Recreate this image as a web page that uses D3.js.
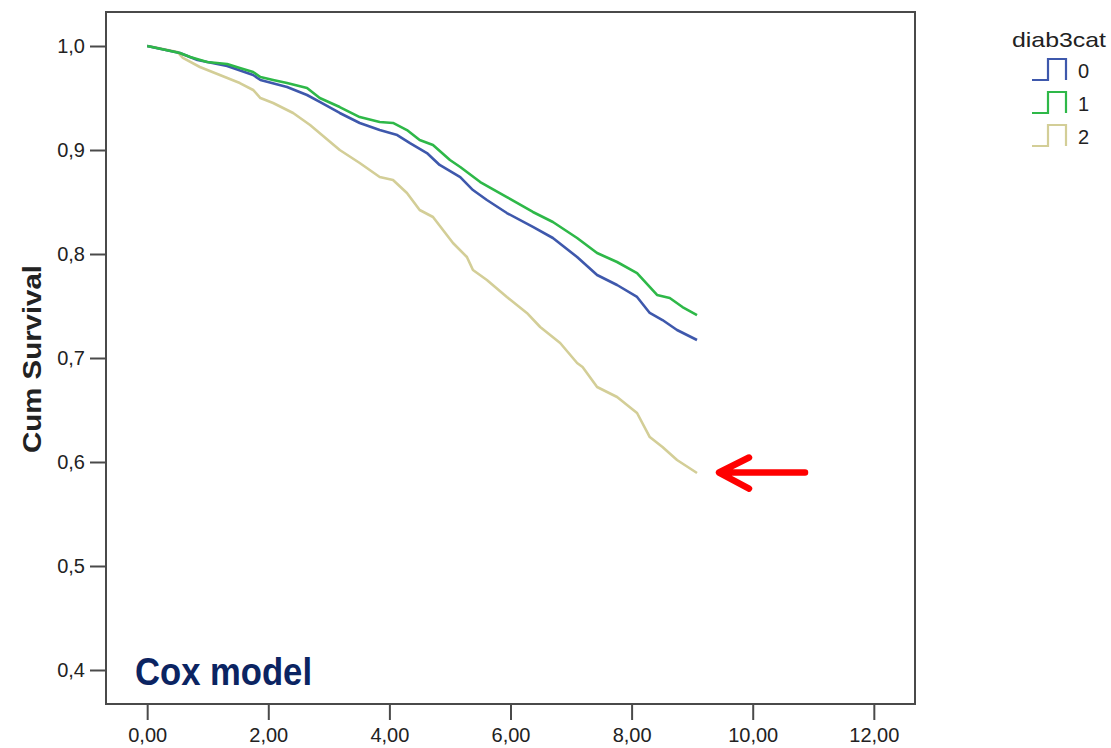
<!DOCTYPE html>
<html><head><meta charset="utf-8">
<script src="https://cdn.jsdelivr.net/npm/d3@7"></script>
<style>
body{margin:0;background:#fff;}
svg{display:block;}
text{font-family:"Liberation Sans",Arial,sans-serif;fill:#222;}
</style></head>
<body><svg id="c" width="1111" height="748"></svg>
<script>
// ---- data ----
const groups = ["0", "1", "2"];
const groupColors = ["#3e58ac", "#2eb848", "#d3ce97"];
const xTicks = [0, 2, 4, 6, 8, 10, 12];
const yTicks = [0.4, 0.5, 0.6, 0.7, 0.8, 0.9, 1.0];

const time0 = [0,0.54,0.83,1.32,1.75,1.87,2.31,2.64,2.85,3.18,3.51,3.84,4.13,4.34,4.62,4.83,5.17,5.38,5.61,5.94,6.37,6.70,7.10,7.43,7.76,8.09,8.30,8.51,8.75,9.08];
const surv0 = [1.000,0.9933,0.9865,0.9808,0.9721,0.9673,0.9606,0.9529,0.9462,0.9356,0.9260,0.9192,0.9144,0.9067,0.8971,0.8856,0.8740,0.8615,0.8519,0.8394,0.8260,0.8154,0.7971,0.7798,0.7702,0.7587,0.7433,0.7365,0.7269,0.7173];

const time1 = [0,0.54,0.71,0.99,1.32,1.53,1.75,1.87,2.08,2.31,2.64,2.85,3.18,3.51,3.84,4.06,4.29,4.50,4.72,5.00,5.17,5.50,5.94,6.37,6.70,7.10,7.43,7.76,8.09,8.42,8.63,8.84,9.08];
const surv1 = [1.000,0.9933,0.9894,0.9846,0.9827,0.9788,0.9750,0.9702,0.9673,0.9644,0.9596,0.9500,0.9413,0.9317,0.9269,0.9260,0.9192,0.9096,0.9048,0.8904,0.8837,0.8692,0.8548,0.8404,0.8308,0.8154,0.8010,0.7923,0.7817,0.7606,0.7577,0.7490,0.7413];

const time2 = [0,0.10,0.50,0.59,0.87,1.20,1.53,1.75,1.87,2.08,2.41,2.69,3.18,3.51,3.84,4.06,4.29,4.50,4.72,5.05,5.28,5.38,5.61,5.94,6.27,6.49,6.82,7.10,7.19,7.43,7.76,8.09,8.30,8.51,8.75,9.08];
const surv2 = [1.000,0.9990,0.9942,0.9885,0.9798,0.9721,0.9644,0.9577,0.9500,0.9452,0.9356,0.9240,0.9000,0.8875,0.8740,0.8712,0.8587,0.8423,0.8356,0.8106,0.7971,0.7846,0.7750,0.7587,0.7433,0.7298,0.7144,0.6952,0.6913,0.6721,0.6625,0.6471,0.6240,0.6144,0.6019,0.5894];

const seriesTimes = [time0, time1, time2];
const seriesSurv = [surv0, surv1, surv2];

// ---- layout ----
const svg = d3.select("#c");
const L = 106, R = 915, T = 12, B = 704;
const x = d3.scaleLinear().domain([-0.68, 12.68]).range([L, R]);
const y = d3.scaleLinear().domain([0.3673, 1.0327]).range([B, T]);
const axisColor = "#4a4a4a";

// curves
const line = d3.line().x(d => x(d[0])).y(d => y(d[1])).curve(d3.curveLinear);
const order = [2, 0, 1];
order.forEach(i => {
  const pts = seriesTimes[i].map((t, k) => [t, seriesSurv[i][k]]);
  svg.append("path").attr("d", line(pts)).attr("fill", "none")
    .attr("stroke", groupColors[i]).attr("stroke-width", 2.6)
    .attr("stroke-linejoin", "round");
});

// frame
svg.append("rect").attr("x", L).attr("y", T).attr("width", R - L).attr("height", B - T)
  .attr("fill", "none").attr("stroke", axisColor).attr("stroke-width", 2);

// axes
const fmtY = d => d3.format(".1f")(d).replace(".", ",");
const fmtX = d => d3.format(".2f")(d).replace(".", ",");
const gy = svg.append("g").attr("transform", `translate(${L},0)`)
  .call(d3.axisLeft(y).tickValues(yTicks).tickSize(16).tickPadding(5).tickFormat(fmtY));
const gx = svg.append("g").attr("transform", `translate(0,${B})`)
  .call(d3.axisBottom(x).tickValues(xTicks).tickSize(16).tickPadding(8).tickFormat(fmtX));
[gy, gx].forEach(g => {
  g.select(".domain").remove();
  g.selectAll(".tick line").attr("stroke", axisColor).attr("stroke-width", 2);
  g.selectAll(".tick text").attr("font-size", 20).attr("fill", "#222")
    .attr("font-family", "'Liberation Sans', Arial, sans-serif");
});

// y title
svg.append("text").attr("transform", "translate(41,359) rotate(-90)")
  .attr("text-anchor", "middle").attr("font-weight", "bold").attr("font-size", 26)
  .attr("textLength", 188).attr("lengthAdjust", "spacingAndGlyphs")
  .text("Cum Survival");

// Cox model label
svg.append("text").attr("x", 135).attr("y", 685)
  .attr("font-family", "'Open Sans', sans-serif").attr("font-weight", "bold")
  .attr("font-size", 38).attr("textLength", 177).attr("lengthAdjust", "spacingAndGlyphs")
  .style("fill", "#0b2462").text("Cox model");

// legend
svg.append("text").attr("x", 1012).attr("y", 47).attr("font-size", 21)
  .attr("textLength", 94).attr("lengthAdjust", "spacingAndGlyphs").text("diab3cat");
const legBottoms = [80, 113, 146];
groups.forEach((g, i) => {
  const yb = legBottoms[i];
  svg.append("path").attr("d", `M1032,${yb}H1048V${yb - 21}H1066V${yb}`)
    .attr("fill", "none").attr("stroke", groupColors[i]).attr("stroke-width", 2.2);
  svg.append("text").attr("x", 1078).attr("y", yb - 2).attr("font-size", 20).text(g);
});

// red arrow pointing at the end of group 2
const tipX = x(time2[time2.length - 1]) + 20, tipY = y(surv2[surv2.length - 1]) - 0.5;
svg.append("path")
  .attr("d", `M${tipX + 88},${tipY}H${tipX + 4}M${tipX + 32},${tipY - 15}L${tipX + 2},${tipY}L${tipX + 32},${tipY + 16}`)
  .attr("fill", "none").attr("stroke", "#ff0000").attr("stroke-width", 6.5)
  .attr("stroke-linecap", "round").attr("stroke-linejoin", "round");
</script></body></html>
